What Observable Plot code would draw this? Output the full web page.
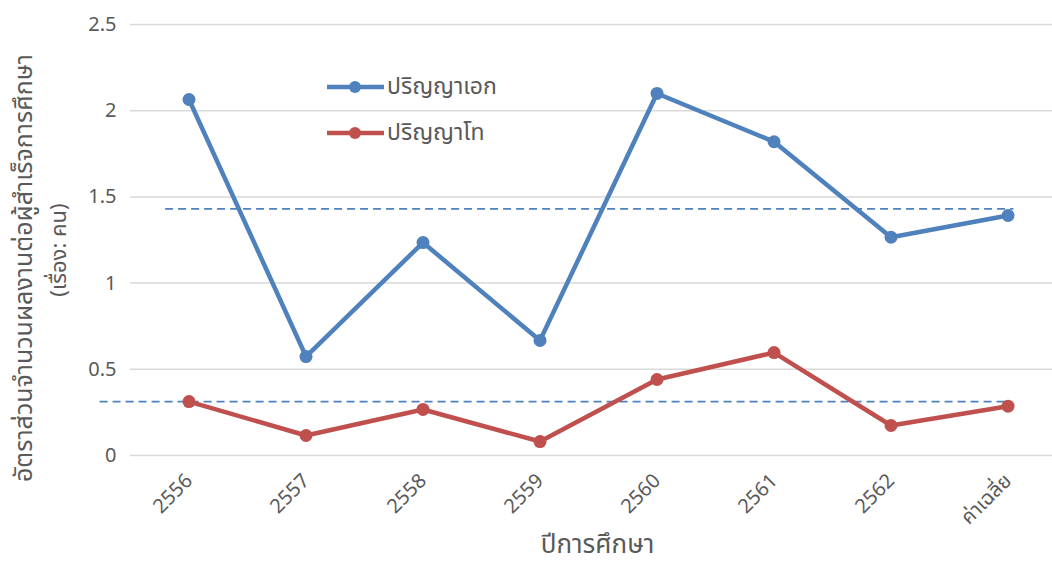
<!DOCTYPE html>
<html><head><meta charset="utf-8">
<script src="https://cdn.jsdelivr.net/npm/d3@7"></script>
<script src="https://cdn.jsdelivr.net/npm/@observablehq/plot@0.6"></script>
<style>
body{margin:0;background:#fff;}
#wrap{position:relative;width:1052px;height:562px;font-family:"Noto Sans Thai","Noto Sans","DejaVu Sans",sans-serif;}
.legend{position:absolute;left:327px;top:64px;color:#595959;font-size:23px;}
.legend .item{display:flex;align-items:center;height:46px;}
.legend svg{display:block;margin-right:3px;}
</style></head><body><div id="wrap"></div>
<script>
const categories = ["2556","2557","2558","2559","2560","2561","2562","ค่าเฉลี่ย"];
const phdValues = [2.065,0.574,1.235,0.667,2.10,1.82,1.266,1.392];
const masterValues = [0.313,0.116,0.267,0.081,0.441,0.597,0.174,0.286];
const seriesNames = ["ปริญญาเอก","ปริญญาโท"];
const yTicks = [0,0.5,1,1.5,2,2.5];
const refValues = [1.431,0.313];
const yTitle = ["อัตราส่วนจำนวนผลงานต่อผู้สำเร็จการศึกษา","(เรื่อง: คน)"];
const xTitle = "ปีการศึกษา";
const colors = ["#4f81bd","#c0504d"];

const rows = [];
categories.forEach((c,i)=>{
  rows.push({i, cat:c, series:seriesNames[0], v:phdValues[i]});
  rows.push({i, cat:c, series:seriesNames[1], v:masterValues[i]});
});
const font = "'Noto Sans Thai','Noto Sans','DejaVu Sans',sans-serif";
const txt = "#595959";

const chart = Plot.plot({
  width:1052, height:562,
  marginLeft:130, marginRight:0, marginTop:24, marginBottom:107,
  style:{fontFamily:font, color:txt, background:"#fff", overflow:"visible"},
  x:{domain:[-0.5,7.38], axis:null},
  y:{domain:[0,2.5], axis:null},
  color:{domain:seriesNames, range:colors},
  marks:[
    Plot.gridY(yTicks,{stroke:"#d9d9d9", strokeOpacity:1, strokeWidth:1.5}),
    Plot.axisY(yTicks,{tickSize:0, tickPadding:14, fontSize:20, fill:txt, label:null, tickFormat:d=>String(d)}),
    Plot.ruleY([refValues[0]],{x1:-0.2, x2:7.05, stroke:"#4f81bd", strokeWidth:1.8, strokeDasharray:"8,5"}),
    Plot.ruleY([refValues[1]],{x1:-0.76, x2:7.0, stroke:"#4f81bd", strokeWidth:1.8, strokeDasharray:"8,5"}),
    Plot.line(rows,{x:"i", y:"v", z:"series", stroke:"series", strokeWidth:4.5}),
    Plot.dot(rows,{x:"i", y:"v", fill:"series", r:6.5}),
    Plot.axisX(d3.range(categories.length),{tickFormat:i=>categories[i], tickRotate:-45, tickSize:0, tickPadding:22, fontSize:20, fill:txt, label:null}),
    Plot.text([xTitle],{frameAnchor:"bottom", lineAnchor:"bottom", textAnchor:"middle", dx:6, dy:97, fontSize:26, fill:txt}),
    Plot.text([yTitle[0]],{frameAnchor:"left", rotate:-90, textAnchor:"middle", lineAnchor:"bottom", dx:-99, dy:28, fontSize:25, fill:txt}),
    Plot.text([yTitle[1]],{frameAnchor:"left", rotate:-90, textAnchor:"middle", lineAnchor:"bottom", dx:-65, dy:10, fontSize:22, fill:txt})
  ]
});
const wrap = document.getElementById("wrap");
wrap.appendChild(chart);

const legend = document.createElement("div");
legend.className = "legend";
seriesNames.forEach((name,k)=>{
  const item = document.createElement("div");
  item.className = "item";
  item.innerHTML = `<svg width="57" height="16"><line x1="0" y1="8" x2="57" y2="8" stroke="${colors[k]}" stroke-width="4.5"/><circle cx="28" cy="8" r="6" fill="${colors[k]}"/></svg><span>${name}</span>`;
  legend.appendChild(item);
});
wrap.appendChild(legend);
</script>
</body></html>
